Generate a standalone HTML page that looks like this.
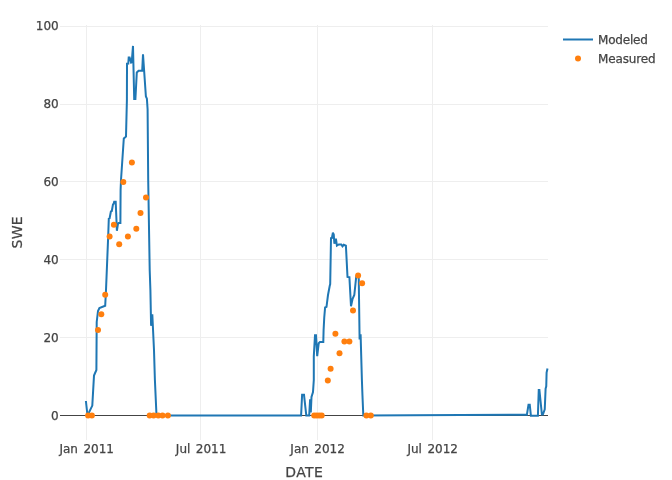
<!DOCTYPE html>
<html><head><meta charset="utf-8"><title>SWE</title>
<style>
html,body{margin:0;padding:0;background:#fff;}
svg{display:block;font-family:"DejaVu Sans","Liberation Sans",sans-serif;}
.g path{stroke:#eee;stroke-width:1;fill:none;shape-rendering:crispEdges;}
.t text{font-size:12px;fill:#444;stroke:#444;stroke-width:0.25px;}
.a text{font-size:14px;fill:#444;stroke:#444;stroke-width:0.25px;}
</style></head><body>
<svg width="672" height="480" viewBox="0 0 672 480">
<rect width="672" height="480" fill="#fff"/>
<g class="g"><path d="M86.5,25V440"/><path d="M200.5,25V440"/><path d="M317.5,25V440"/><path d="M432.5,25V440"/><path d="M60,26.5H548"/><path d="M60,104.5H548"/><path d="M60,181.5H548"/><path d="M60,259.5H548"/><path d="M60,337.5H548"/></g>
<path d="M60,415.5H548" stroke="#444" stroke-width="1" fill="none" shape-rendering="crispEdges"/>
<path d="M85.90,401.00L87.50,415.50L92.30,405.60L94.00,375.60L96.40,370.00L96.70,322.00L98.00,311.00L99.40,308.00L105.20,305.80L106.00,290.00L108.20,236.00L108.80,218.60L109.60,218.30L110.90,211.50L111.80,211.00L113.00,204.40L113.60,204.00L114.20,201.70L115.70,201.70L116.90,230.80L117.90,224.00L118.70,223.10L120.40,223.10L120.60,190.00L121.00,180.00L123.80,138.50L126.00,136.60L126.90,100.00L127.00,63.70L128.30,63.60L128.70,57.50L129.60,57.50L131.10,62.60L131.70,62.30L133.00,45.90L134.20,99.00L135.40,99.00L136.80,72.40L138.60,70.70L142.20,70.70L143.00,54.20L145.90,96.50L146.90,98.70L147.60,109.40L148.20,180.00L149.70,270.00L150.40,290.00L151.10,325.80L152.30,314.20L154.00,350.00L154.90,380.00L156.50,415.50L301.10,415.50L302.10,394.80L304.00,394.80L306.30,415.50L309.20,415.50L310.10,399.20L310.80,412.50L311.50,397.00L313.00,392.00L313.80,380.00L313.80,356.40L315.00,335.30L316.00,335.30L317.20,356.20L318.70,343.30L320.00,341.90L323.30,341.90L323.60,330.00L324.25,317.50L325.10,307.50L326.50,306.90L328.00,295.00L329.70,286.00L330.20,284.00L331.00,238.10L331.90,238.00L332.90,232.75L333.75,234.40L334.40,243.75L335.90,238.75L336.90,245.60L338.75,244.40L341.25,244.40L342.50,246.25L343.75,244.75L345.90,245.60L347.50,276.90L349.40,277.20L351.00,306.25L352.60,298.75L354.30,295.00L356.20,276.90L357.50,275.00L358.75,278.75L359.60,339.40L360.60,334.40L361.90,380.00L362.40,394.00L363.30,415.50L526.90,414.70L528.50,404.75L529.75,404.75L530.90,415.70L537.90,415.70L538.75,390.00L539.40,390.00L541.90,414.50L542.90,414.50L544.75,409.40L545.60,388.75L546.25,386.25L546.60,372.50L547.50,368.50" fill="none" stroke="#1f77b4" stroke-width="2" stroke-miterlimit="2"/>
<g fill="#ff7f0e"><circle cx="88.1" cy="415.5" r="3"/><circle cx="91.9" cy="415.5" r="3"/><circle cx="98.0" cy="329.9" r="3"/><circle cx="101.3" cy="314.3" r="3"/><circle cx="105.2" cy="294.8" r="3"/><circle cx="109.6" cy="236.4" r="3"/><circle cx="113.9" cy="224.8" r="3"/><circle cx="119.2" cy="244.2" r="3"/><circle cx="123.3" cy="181.9" r="3"/><circle cx="127.9" cy="236.4" r="3"/><circle cx="131.9" cy="162.5" r="3"/><circle cx="136.3" cy="228.7" r="3"/><circle cx="140.5" cy="213.1" r="3"/><circle cx="146.0" cy="197.5" r="3"/><circle cx="149.7" cy="415.5" r="3"/><circle cx="153.6" cy="415.5" r="3"/><circle cx="158.3" cy="415.5" r="3"/><circle cx="162.5" cy="415.5" r="3"/><circle cx="167.9" cy="415.5" r="3"/><circle cx="314.2" cy="415.5" r="3"/><circle cx="316.7" cy="415.5" r="3"/><circle cx="319.2" cy="415.5" r="3"/><circle cx="321.7" cy="415.5" r="3"/><circle cx="327.8" cy="380.5" r="3"/><circle cx="330.6" cy="368.8" r="3"/><circle cx="335.4" cy="333.8" r="3"/><circle cx="339.5" cy="353.2" r="3"/><circle cx="344.4" cy="341.5" r="3"/><circle cx="349.4" cy="341.5" r="3"/><circle cx="353.0" cy="310.4" r="3"/><circle cx="358.1" cy="275.4" r="3"/><circle cx="362.1" cy="283.2" r="3"/><circle cx="366.4" cy="415.5" r="3"/><circle cx="370.8" cy="415.5" r="3"/></g>
<g class="t"><text x="85.8" y="453" text-anchor="middle"><tspan dx="0.9">Jan</tspan><tspan dx="1.65"> 2011</tspan></text><text x="200.2" y="453" text-anchor="middle"><tspan dx="0.9">Jul</tspan><tspan dx="1.65"> 2011</tspan></text><text x="316.7" y="453" text-anchor="middle"><tspan dx="0.9">Jan</tspan><tspan dx="1.65"> 2012</tspan></text><text x="431.8" y="453" text-anchor="middle"><tspan dx="0.9">Jul</tspan><tspan dx="1.65"> 2012</tspan></text><text x="58.7" y="419.7" text-anchor="end">0</text><text x="58.7" y="341.8" text-anchor="end">20</text><text x="58.7" y="264.0" text-anchor="end">40</text><text x="58.7" y="186.1" text-anchor="end">60</text><text x="58.7" y="108.3" text-anchor="end">80</text><text x="58.7" y="30.4" text-anchor="end">100</text></g>
<g class="a"><text x="304.3" y="476.5" text-anchor="middle" letter-spacing="0.4">DATE</text>
<text transform="rotate(-90 21.6 232.3)" x="21.6" y="232.3" text-anchor="middle" letter-spacing="0.3">SWE</text></g>
<g class="t">
<path d="M563,39.5H593" stroke="#1f77b4" stroke-width="2" fill="none"/>
<text x="598" y="43.7" letter-spacing="-0.2">Modeled</text>
<circle cx="578" cy="58.5" r="3" fill="#ff7f0e"/>
<text x="598" y="62.7" letter-spacing="-0.13">Measured</text>
</g>
</svg>
</body></html>
